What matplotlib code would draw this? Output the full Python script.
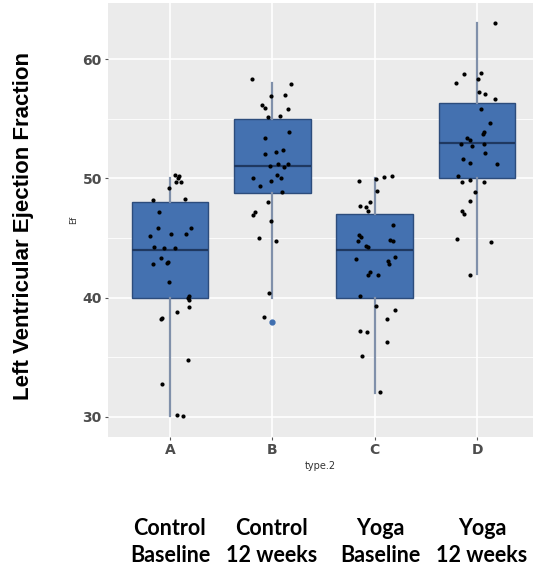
import numpy as np
import matplotlib
matplotlib.use("Agg")
import matplotlib.pyplot as plt

# группы
groups = ["A", "B", "C", "D"]
group_names = ["Control\nBaseline", "Control\n12 weeks", "Yoga\nBaseline", "Yoga\n12 weeks"]

# статистика ящиков (q1, med, q3, нижний ус, верхний ус)
q1 = [40.0, 48.8, 40.0, 50.0]
med = [44.0, 51.0, 44.0, 53.0]
q3 = [48.0, 55.0, 47.0, 56.3]
whislo = [30.1, 40.0, 32.0, 42.0]
whishi = [50.0, 58.0, 50.0, 63.0]
outliers = [[], [38.0], [], []]

# точки (значение, сдвиг джиттера)
ef_a = [50.28, 50.2, 50.06, 49.67, 49.67, 49.22, 48.19, 48.3, 47.2, 45.8, 45.8,
        45.2, 45.37, 45.3, 44.28, 44.2, 44.14, 43.33, 42.85, 42.94, 43.0, 41.3,
        40.14, 39.97, 39.84, 39.2, 38.77, 38.33, 38.2, 34.75, 32.8, 30.14, 30.08]
jit_a = [0.046, 0.091, 0.082, 0.056, 0.111, -0.01, -0.166, 0.143, -0.104, -0.12, 0.202,
         -0.195, 0.013, 0.153, -0.159, -0.055, 0.049, -0.091, -0.166, -0.026, -0.016, -0.006,
         0.186, 0.18, 0.182, 0.186, 0.065, -0.081, -0.087, 0.176, -0.074, 0.068, 0.127]

ef_b = [58.31, 57.9, 56.93, 57.0, 56.15, 55.9, 55.8, 55.17, 55.26, 53.9, 53.4, 52.07,
        52.24, 52.35, 51.2, 51.0, 50.93, 51.18, 50.3, 50.03, 50.0, 49.78, 49.36, 48.86,
        48.05, 47.16, 46.96, 46.4, 45.0, 44.75, 40.39, 38.4]
jit_b = [-0.198, 0.182, -0.01, 0.127, -0.104, -0.068, 0.156, -0.045, 0.075, 0.166, -0.071,
         -0.068, 0.036, 0.107, 0.056, -0.022, 0.111, 0.153, 0.046, 0.088, -0.188, -0.013,
         -0.12, 0.092, -0.045, -0.166, -0.191, -0.01, -0.13, 0.036, -0.035, -0.084]

ef_c = [49.78, 49.95, 50.14, 50.2, 48.97, 48.0, 47.7, 47.63, 47.27, 46.07, 45.28, 45.09,
        44.72, 44.86, 44.75, 44.33, 44.28, 43.27, 43.41, 43.08, 42.85, 42.15, 41.87, 41.9,
        40.14, 39.33, 39.0, 38.2, 37.24, 37.15, 36.26, 35.11, 32.1]
jit_c = [-0.15, 0.01, 0.091, 0.172, 0.023, -0.042, -0.146, -0.088, -0.065, 0.182, -0.153,
         -0.133, -0.163, 0.15, 0.179, -0.081, -0.062, -0.185, 0.198, 0.127, 0.143, -0.045,
         -0.062, 0.033, -0.146, 0.013, 0.198, 0.12, -0.146, -0.078, 0.124, -0.12, 0.055]

ef_d = [63.0, 58.75, 58.86, 58.0, 58.3, 57.24, 57.05, 56.66, 55.79, 54.67, 53.89, 53.75,
        53.36, 53.19, 52.91, 52.69, 52.86, 52.13, 51.65, 51.32, 51.18, 50.2, 49.67, 49.87,
        49.73, 48.86, 48.13, 47.27, 47.0, 44.9, 44.67, 41.87]
jit_d = [0.172, -0.124, 0.042, -0.202, 0.01, 0.02, 0.074, 0.176, 0.042, 0.127, 0.068,
         0.059, -0.095, -0.065, -0.153, -0.049, 0.068, 0.081, -0.134, -0.072, 0.195, -0.182,
         -0.143, -0.072, 0.068, -0.02, -0.065, -0.146, -0.13, -0.192, 0.139, -0.065]

ef_all = [ef_a, ef_b, ef_c, ef_d]
jit_all = [jit_a, jit_b, jit_c, jit_d]

fig = plt.figure(figsize=(5.33, 5.71), dpi=100)
ax = fig.add_axes([108 / 533, 1 - 437 / 571, 425 / 533, 434 / 571])
ax.set_facecolor("#EBEBEB")

pos = np.arange(1, len(groups) + 1)

# сетка как в ggplot
for v in [35, 45, 55]:
    ax.axhline(v, color="white", lw=0.6, zorder=0)
for v in [30, 40, 50, 60]:
    ax.axhline(v, color="white", lw=1.2, zorder=0)
for p in pos:
    ax.axvline(p, color="white", lw=1.2, zorder=0)

stats = []
for i in range(len(groups)):
    stats.append(dict(med=med[i], q1=q1[i], q3=q3[i], whislo=whislo[i],
                      whishi=whishi[i], fliers=outliers[i]))

ax.bxp(stats, positions=pos, widths=0.75, patch_artist=True, showcaps=False,
       boxprops=dict(facecolor="#4471B0", edgecolor="#2C4C7C", lw=1.0),
       medianprops=dict(color="#1F3860", lw=1.6),
       whiskerprops=dict(color="#8090AA", lw=1.6),
       flierprops=dict(marker="o", markerfacecolor="#3F6FB0", markeredgecolor="#3F6FB0",
                       markersize=3.5),
       zorder=2)

for i in range(len(groups)):
    xs = pos[i] + np.array(jit_all[i])
    ax.scatter(xs, ef_all[i], s=9, color="black", zorder=3, linewidths=0)

ax.set_xlim(0.395, 4.546)
ax.set_ylim(28.32, 64.70)
ax.set_yticks([30, 40, 50, 60])
ax.set_xticks(pos)
ax.set_xticklabels(groups)
for s in ax.spines.values():
    s.set_visible(False)
ax.tick_params(axis="both", colors="#555555", length=2.5, width=0.8, pad=2)
for lab in ax.get_xticklabels() + ax.get_yticklabels():
    lab.set_fontsize(10)
    lab.set_fontweight("bold")
    lab.set_color("#4D4D4D")

ax.set_xlabel("type.2", fontsize=7, color="#333333", labelpad=3)
ax.set_ylabel("Ef", fontsize=6, color="#333333", labelpad=3)

fig.text(24 / 533, 1 - 226 / 571, "Left Ventricular Ejection Fraction", rotation=90,
         ha="center", va="center", fontsize=16, fontweight="bold", family="Liberation Sans")

label_x = [170, 272, 380, 482]
for x, name in zip(label_x, group_names):
    fig.text(x / 533, 1 - 542 / 571, name, ha="center", va="center", fontsize=15.5,
             fontweight="bold", family="Lato", linespacing=1.32)

fig.savefig("out.png", dpi=100)
